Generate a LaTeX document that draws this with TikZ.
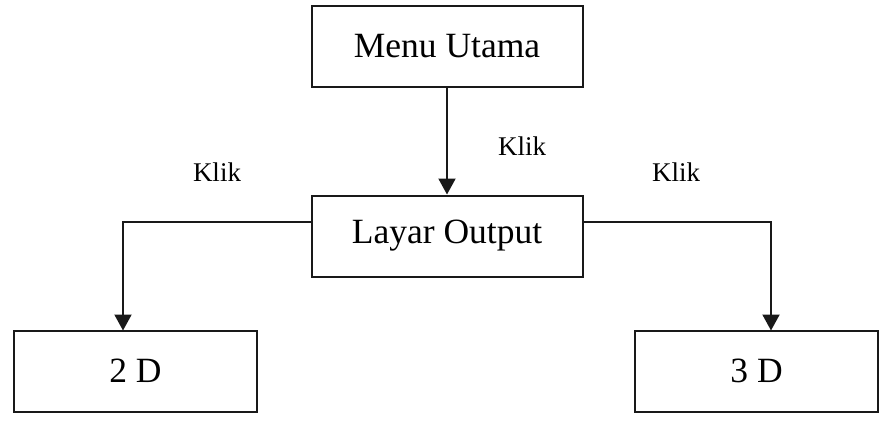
\documentclass[tikz,border=0pt]{standalone}
\usepackage{fontspec}
\setmainfont{Liberation Serif}
\usetikzlibrary{arrows.meta}
\begin{document}
\begin{tikzpicture}[x=1pt,y=-1pt,
  box/.style={draw=black!90,line width=2pt,minimum width=#1,minimum height=81pt,inner sep=0pt,font=\fontsize{35.5}{40}\selectfont},
  arr/.style={draw=black!90,line width=2pt,-{Triangle[width=17pt,length=16pt]}},
  lbl/.style={font=\fontsize{27}{30}\selectfont}]
\useasboundingbox (0,0) rectangle (883,426);
\node[box=271pt] (menu) at (447,46.5) {Menu Utama};
\node[box=271pt] (layar) at (447,236) {Layar Output};
\node[box=243pt] (d2) at (135.5,371) {2 D};
\node[box=243pt] (d3) at (756.5,371) {3 D};
\coordinate (lo) at (311.5,222);
\coordinate (ro) at (582.5,222);
\coordinate (d2in) at (123,330.5);
\coordinate (d3in) at (771,330.5);
\draw[arr] (menu.south) -- (layar.north);
\draw[arr] (lo) -| (d2in);
\draw[arr] (ro) -| (d3in);
\node[lbl] (k1) at (522,146) {Klik};
\node[lbl] (k2) at (217,172) {Klik};
\node[lbl] (k3) at (676,172) {Klik};
\end{tikzpicture}
\end{document}
